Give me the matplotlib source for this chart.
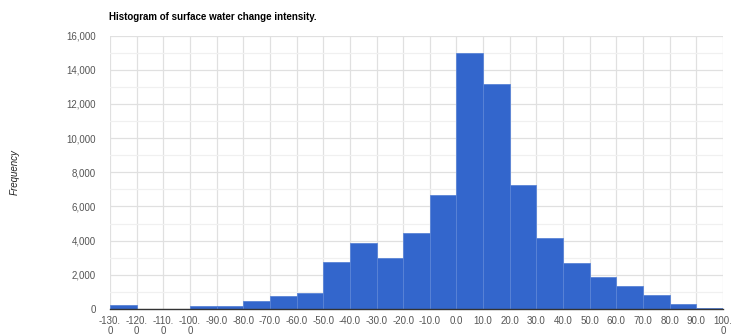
import matplotlib.pyplot as plt
from matplotlib.ticker import MultipleLocator, FuncFormatter

plt.rcParams['font.family'] = ['Liberation Sans', 'DejaVu Sans']

# bin edges of the histogram (width 10)
bin_edges = list(range(-130, 101, 10))
# counts per bin
counts = [234, 15, 10, 158, 193, 468, 779, 919, 2752, 3864, 3004, 4450,
          6657, 15000, 13150, 7240, 4139, 2676, 1874, 1347, 837, 293, 59]

title = "Histogram of surface water change intensity."
y_label = "Frequency"


def edge_label(v):
    s = f"{v:.1f}"
    if abs(v) >= 100:
        s = s[:-1] + "\n" + s[-1]
    return s


fig = plt.figure(figsize=(7.41, 3.36), dpi=100)
ax = fig.add_axes([110 / 741, 1 - 309 / 336, 613 / 741, (309 - 35.5) / 336])

ax.bar(bin_edges[:-1], counts, width=10, align='edge', color='#3366cc',
       edgecolor='#5a84d6', linewidth=0.6, zorder=2)

ax.set_xlim(bin_edges[0], bin_edges[-1])
ax.set_ylim(0, 16000)
ax.set_xticks(bin_edges)
ax.set_xticklabels([edge_label(v) for v in bin_edges])
ax.yaxis.set_major_locator(MultipleLocator(2000))
ax.yaxis.set_minor_locator(MultipleLocator(1000))
ax.yaxis.set_major_formatter(FuncFormatter(lambda v, p: f"{int(v):,}"))

ax.grid(True, which='major', color='#e0e0e0', linewidth=0.9, zorder=0)
ax.grid(True, which='minor', axis='y', color='#f0f0f0', linewidth=0.9, zorder=0)
ax.set_axisbelow(True)

for side in ['top', 'right', 'left']:
    ax.spines[side].set_visible(False)
ax.spines['bottom'].set_color('#333333')
ax.spines['bottom'].set_linewidth(1.0)
ax.spines['bottom'].set_zorder(3)

ax.tick_params(axis='both', which='both', length=0, labelsize=7, labelcolor='#555555')
ax.tick_params(axis='y', pad=10)
ax.tick_params(axis='x', pad=5)
for lbl in ax.get_xticklabels():
    lbl.set_linespacing(1.0)

fig.text(109 / 741, 1 - 17 / 336, title, fontsize=7, fontweight='bold',
         color='#000000', va='center', ha='left')
fig.text(15 / 741, 1 - 172 / 336, y_label, fontsize=7, style='italic',
         color='#222222', rotation=90, va='center', ha='center')

fig.savefig('out.png', dpi=100)
